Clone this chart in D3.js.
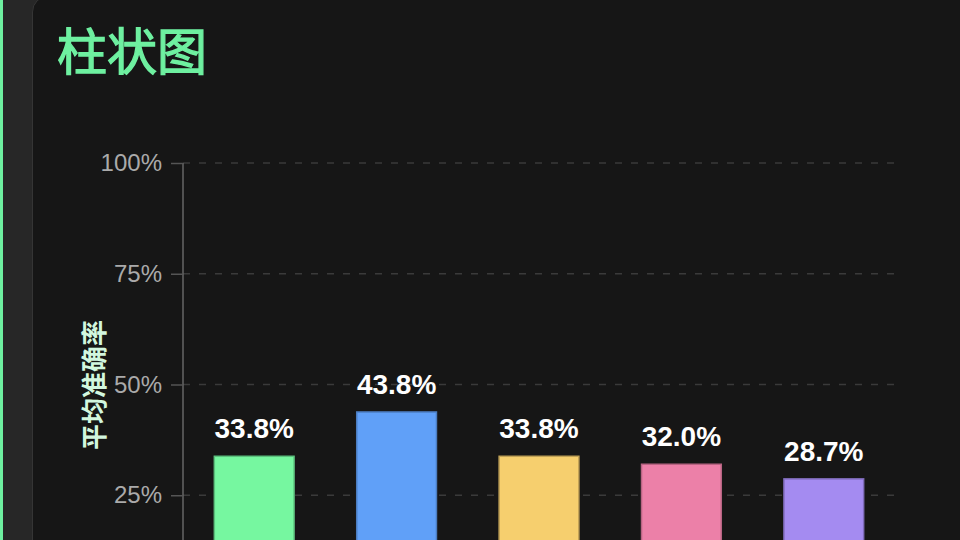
<!DOCTYPE html>
<html>
<head>
<meta charset="utf-8">
<script src="https://cdn.jsdelivr.net/npm/d3@7"></script>
<style>
  html, body { margin: 0; padding: 0; background: #272727; }
  svg { display: block; font-family: "Liberation Sans", Arial, "Noto Sans CJK SC", sans-serif; }
</style>
</head>
<body>
<div id="chart"></div>
<script>
// Data
const categories = ["模型1", "模型2", "模型3", "模型4", "模型5"];
const accuracy = [33.8, 43.8, 33.8, 32.0, 28.7];
const barColors = ["#76f7a0", "#60a0f8", "#f6cf6e", "#ec80a8", "#a48bf1"];
const yTicks = [25, 50, 75, 100];

const width = 960, height = 540;

const svg = d3.select("#chart")
  .append("svg")
  .attr("width", width)
  .attr("height", height);

// Page background + left accent
svg.append("rect")
  .attr("width", width).attr("height", height)
  .attr("fill", "#272727");
svg.append("rect")
  .attr("x", 0).attr("y", 0)
  .attr("width", 3).attr("height", height)
  .attr("fill", "#6ef0a0");

// Card
svg.append("rect")
  .attr("x", 32.5).attr("y", -4)
  .attr("width", 1000).attr("height", 700)
  .attr("rx", 16)
  .attr("fill", "#161616")
  .attr("stroke", "#353535");

// Title (regular weight thickened a little with a stroke)
svg.append("text")
  .attr("x", 57)
  .attr("y", 48)
  .attr("dominant-baseline", "central")
  .attr("fill", "#6ef0a0")
  .attr("stroke", "#6ef0a0")
  .attr("stroke-width", 1.3)
  .style("font-family", "'Noto Sans CJK SC', sans-serif")
  .style("font-size", "50px")
  .text("柱状图");

// Plot area
const x0 = 183, x1 = 895, yTop = 163, yBottom = 606;

const x = d3.scaleBand()
  .domain(categories)
  .range([x0, x1])
  .paddingInner(0.44)
  .paddingOuter(0.22);

const y = d3.scaleLinear()
  .domain([0, 100])
  .range([yBottom, yTop]);

// Grid lines
svg.append("g")
  .selectAll("line")
  .data(yTicks)
  .join("line")
  .attr("x1", x0).attr("x2", x1)
  .attr("y1", d => y(d)).attr("y2", d => y(d))
  .attr("stroke", "#3a3a3a")
  .attr("stroke-width", 1.5)
  .attr("stroke-dasharray", "7,9");

// Y axis
const yAxis = d3.axisLeft(y)
  .tickValues(yTicks)
  .tickSize(12)
  .tickPadding(9)
  .tickFormat(d => d + "%");

const yAxisG = svg.append("g")
  .attr("transform", `translate(${x0},0)`)
  .call(yAxis);

yAxisG.select(".domain")
  .attr("d", `M0,${yTop}V${height + 10}`)
  .attr("stroke", "#666")
  .attr("stroke-width", 1.5);
yAxisG.selectAll(".tick line")
  .attr("stroke", "#555")
  .attr("stroke-width", 1.5);
yAxisG.selectAll(".tick text")
  .attr("fill", "#aaaaaa")
  .style("font-size", "24px");

// Y axis title
svg.append("text")
  .attr("transform", `translate(92,385) rotate(-90)`)
  .attr("text-anchor", "middle")
  .attr("dominant-baseline", "central")
  .attr("fill", "#d2f7df")
  .style("font-family", "'Noto Sans CJK SC', sans-serif")
  .style("font-weight", "bold")
  .style("font-size", "26px")
  .text("平均准确率");

// Bars
svg.append("g")
  .selectAll("rect")
  .data(accuracy)
  .join("rect")
  .attr("x", (d, i) => x(categories[i]))
  .attr("y", d => y(d))
  .attr("width", x.bandwidth())
  .attr("height", d => yBottom - y(d))
  .attr("fill", (d, i) => barColors[i])
  .attr("stroke", (d, i) => d3.color(barColors[i]).darker(0.7))
  .attr("stroke-width", 1.5);

// Value labels
svg.append("g")
  .selectAll("text")
  .data(accuracy)
  .join("text")
  .attr("x", (d, i) => x(categories[i]) + x.bandwidth() / 2)
  .attr("y", d => y(d) - 18)
  .attr("text-anchor", "middle")
  .attr("fill", "#ffffff")
  .style("font-weight", "bold")
  .style("font-size", "28px")
  .text(d => d.toFixed(1) + "%");
</script>
</body>
</html>
